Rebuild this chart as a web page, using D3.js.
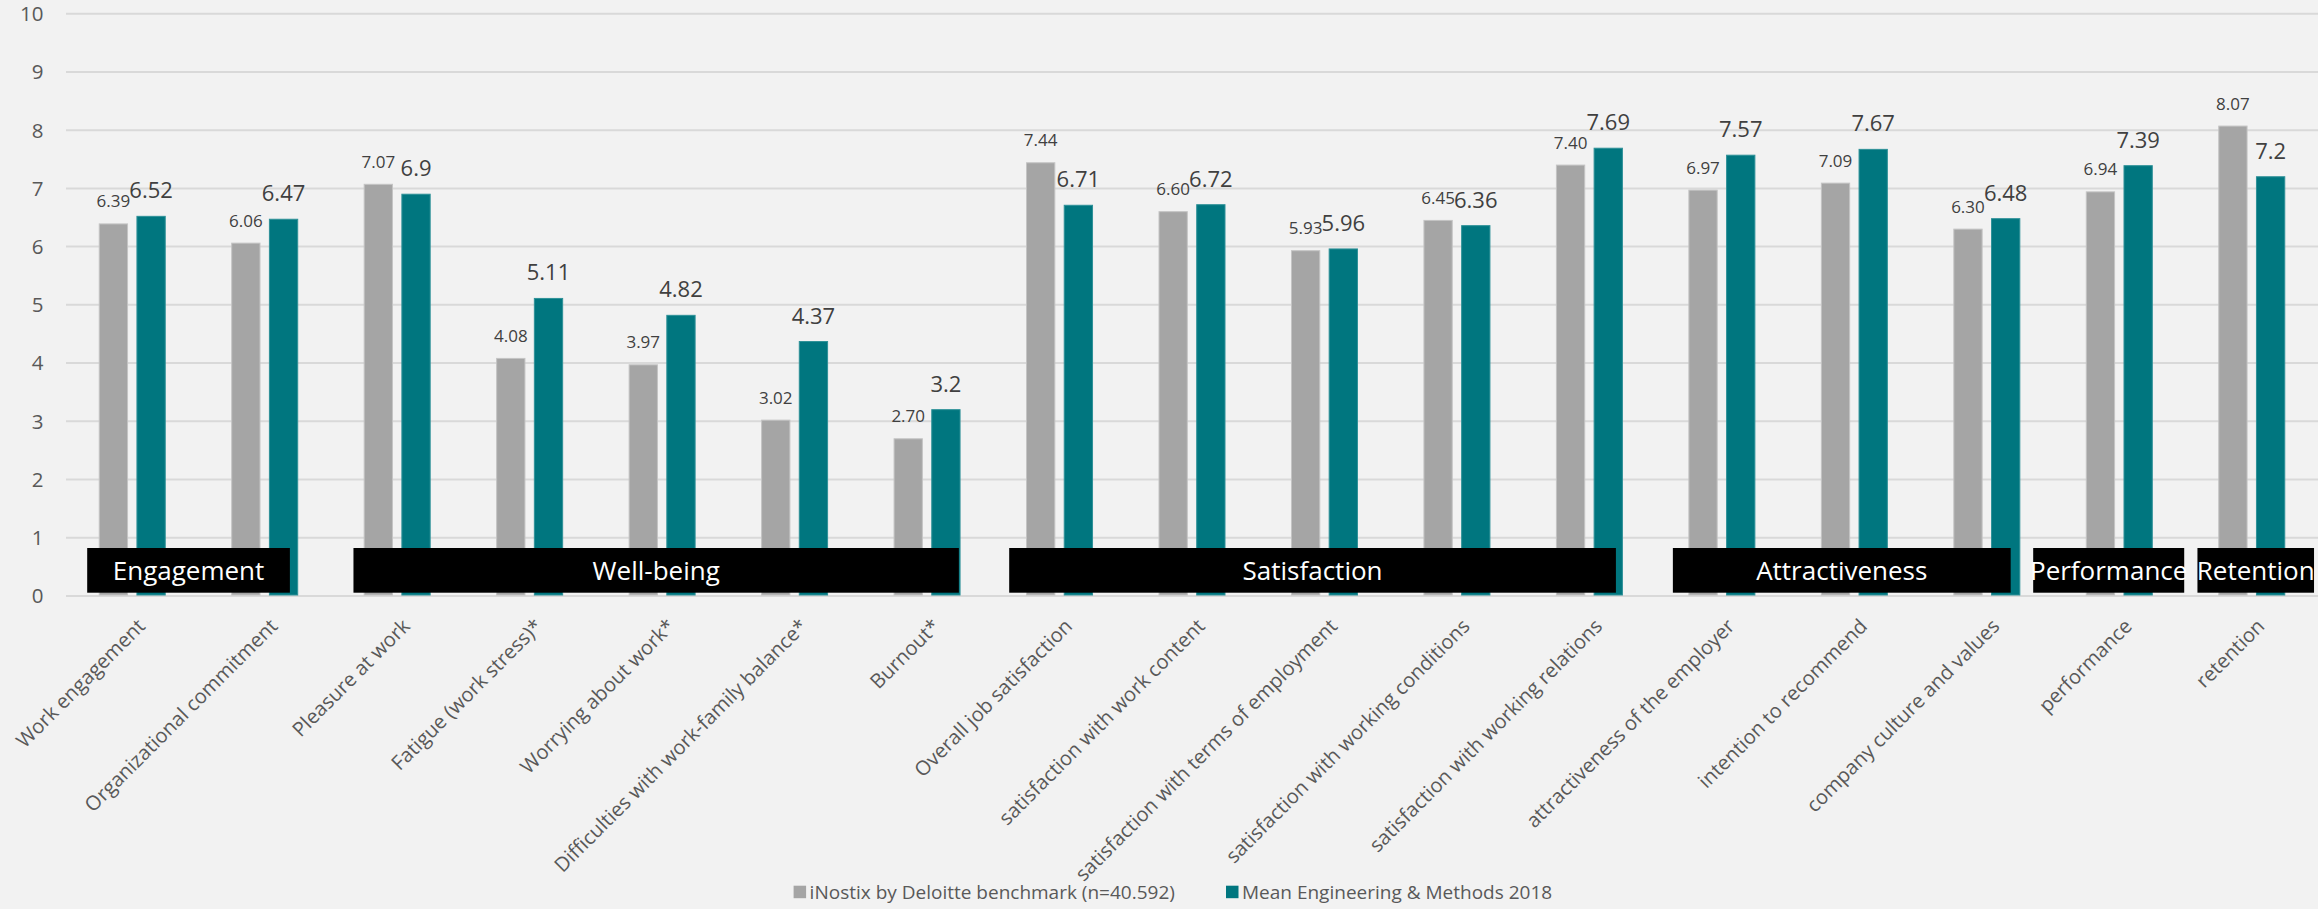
<!DOCTYPE html>
<html>
<head>
<meta charset="utf-8">
<script src="https://cdn.jsdelivr.net/npm/d3@7"></script>
<style>
  html, body { margin: 0; padding: 0; background: #F2F2F2; }
  svg { display: block; font-family: "Open Sans", "Noto Sans", sans-serif; }
</style>
</head>
<body>
<svg id="chart" width="2318" height="909"></svg>
<script>
// ---- data ----
const categories = [
  "Work engagement",
  "Organizational commitment",
  "Pleasure at work",
  "Fatigue (work stress)*",
  "Worrying about work*",
  "Difficulties with work-family balance*",
  "Burnout*",
  "Overall job satisfaction",
  "satisfaction with work content",
  "satisfaction with terms of employment",
  "satisfaction with working conditions",
  "satisfaction with working relations",
  "attractiveness of the employer",
  "intention to recommend",
  "company culture and values",
  "performance",
  "retention"
];
const benchmarkValues = [6.39, 6.06, 7.07, 4.08, 3.97, 3.02, 2.70, 7.44, 6.60, 5.93, 6.45, 7.40, 6.97, 7.09, 6.30, 6.94, 8.07];
const meanValues      = [6.52, 6.47, 6.9, 5.11, 4.82, 4.37, 3.2, 6.71, 6.72, 5.96, 6.36, 7.69, 7.57, 7.67, 6.48, 7.39, 7.2];
const seriesNames = ["iNostix by Deloitte benchmark (n=40.592)", "Mean Engineering & Methods 2018"];
const yTicks = [0, 1, 2, 3, 4, 5, 6, 7, 8, 9, 10];
const groupNames = ["Engagement", "Well-being", "Satisfaction", "Attractiveness", "Performance", "Retention"];
// group box extents, in category-index units
const groupSpans = [[-0.34, 1.19], [1.67, 6.24], [6.62, 11.20], [11.63, 14.18], [14.35, 15.49], [15.59, 16.47]];

// ---- style ----
const colors = ["#A5A5A5", "#00767F"];
const strokes = ["#C4C4C4", "#2E9198"];

const svg = d3.select("#chart");
const plotLeft = 66, plotRight = 2318, plotTop = 13.7, plotBottom = 596;

const x = d3.scaleBand().domain(categories).range([plotLeft, plotRight])
  .paddingInner(0.4943).paddingOuter(0.24715);
const xs = d3.scaleBand().domain([0, 1]).range([0, x.bandwidth()]).paddingInner(0.223);
const y = d3.scaleLinear().domain([0, 10]).range([plotBottom, plotTop]);
const xc = d3.scaleLinear().domain([0, categories.length - 1])
  .range([x(categories[0]) + x.bandwidth() / 2, x(categories[categories.length - 1]) + x.bandwidth() / 2]);

// gridlines
svg.append("g").selectAll("line").data(yTicks).join("line")
  .attr("x1", plotLeft).attr("x2", plotRight)
  .attr("y1", d => y(d)).attr("y2", d => y(d))
  .attr("stroke", "#D9D9D9").attr("stroke-width", 2);

// y tick labels
svg.append("g").selectAll("text").data(yTicks).join("text")
  .attr("x", 43.5).attr("y", d => y(d))
  .attr("dy", "0.36em")
  .attr("text-anchor", "end")
  .attr("font-size", 20.5).attr("fill", "#595959")
  .text(d => d);

// bars
const series = [benchmarkValues, meanValues];
series.forEach((vals, s) => {
  svg.append("g").selectAll("rect").data(vals).join("rect")
    .attr("x", (d, i) => x(categories[i]) + xs(s) + 0.5)
    .attr("width", xs.bandwidth() - 1)
    .attr("y", d => y(d))
    .attr("height", d => y(0) - y(d) - 1)
    .attr("fill", colors[s])
    .attr("stroke", strokes[s]).attr("stroke-width", 1);
});

// group boxes
const gb = svg.append("g");
groupNames.forEach((name, i) => {
  const x0 = xc(groupSpans[i][0]), x1 = xc(groupSpans[i][1]);
  gb.append("rect").attr("x", x0).attr("y", 548).attr("width", x1 - x0).attr("height", 44.7).attr("fill", "#000");
  gb.append("text").attr("x", (x0 + x1) / 2).attr("y", 570.3).attr("dy", "0.36em")
    .attr("text-anchor", "middle").attr("font-size", 26).attr("fill", "#FFFFFF").text(name);
});

// value labels
svg.append("g").selectAll("text").data(benchmarkValues).join("text")
  .attr("x", (d, i) => x(categories[i]) + xs(0) + xs.bandwidth() / 2)
  .attr("y", d => y(d) - 16.5)
  .attr("text-anchor", "middle").attr("font-size", 17).attr("fill", "#404040")
  .text(d => d.toFixed(2));
svg.append("g").selectAll("text").data(meanValues).join("text")
  .attr("x", (d, i) => x(categories[i]) + xs(1) + xs.bandwidth() / 2)
  .attr("y", d => y(d) - 18)
  .attr("text-anchor", "middle").attr("font-size", 22).attr("fill", "#404040")
  .text(d => String(d));

// category labels
svg.append("g").selectAll("text").data(categories).join("text")
  .attr("transform", d => `translate(${x(d) + x.bandwidth() / 2 + 3.5},617) rotate(-45)`)
  .attr("dy", "0.74em")
  .attr("text-anchor", "end").attr("font-size", 20.1).attr("fill", "#595959")
  .text(d => d);

// legend
const legendX = [793.6, 1226];
const lg = svg.append("g");
seriesNames.forEach((name, s) => {
  lg.append("rect").attr("x", legendX[s]).attr("y", 885.7).attr("width", 12.5).attr("height", 12.5).attr("fill", colors[s]);
  lg.append("text").attr("x", legendX[s] + 16).attr("y", 898.5)
    .attr("font-size", 19).attr("fill", "#595959").text(name);
});
</script>
</body>
</html>
